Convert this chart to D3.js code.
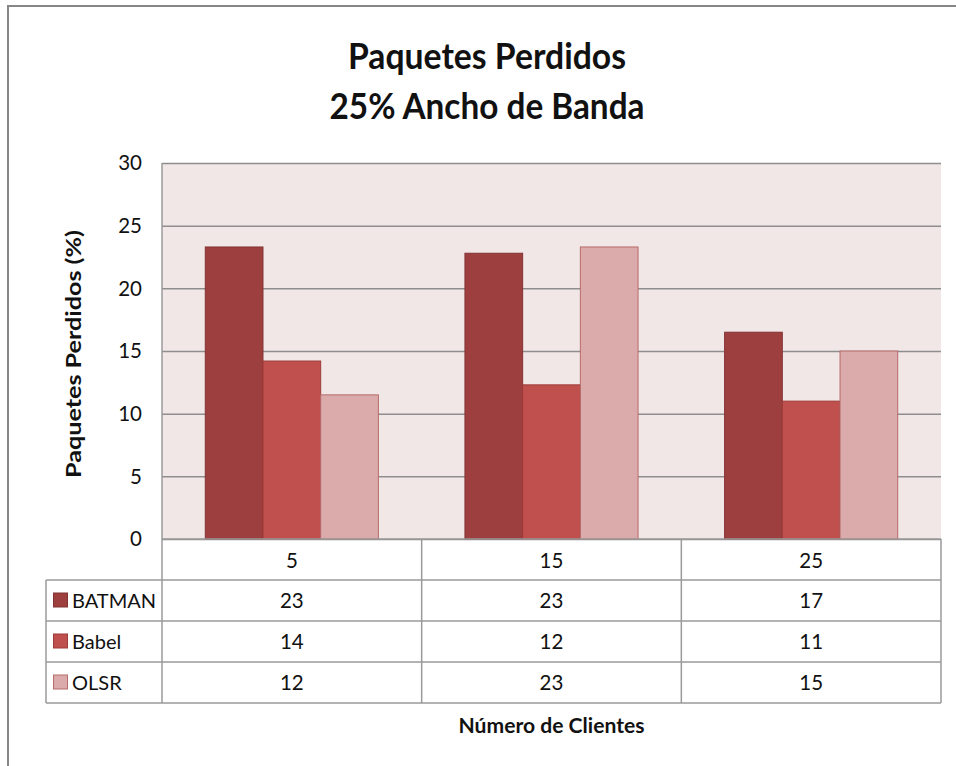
<!DOCTYPE html>
<html>
<head>
<meta charset="utf-8">
<script src="https://cdn.jsdelivr.net/npm/d3@7"></script>
<style>
  html, body { margin: 0; padding: 0; background: #ffffff; }
  svg { display: block; }
  text { font-family: Lato, "Open Sans", sans-serif; fill: #111; }
</style>
</head>
<body>
<svg id="chart" width="956" height="766"></svg>
<script>
// Lost packets per routing protocol, 25% bandwidth
const categories = ["5", "15", "25"];
const seriesNames = ["BATMAN", "Babel", "OLSR"];
const batman = [23.3, 22.8, 16.5];
const babel = [14.2, 12.3, 11.0];
const olsr = [11.5, 23.3, 15.0];
const yTicks = [0, 5, 10, 15, 20, 25, 30];
const titleLines = ["Paquetes Perdidos", "25% Ancho de Banda"];
const yTitle = "Paquetes Perdidos (%)";
const xTitle = "Número de Clientes";

const seriesValues = [batman, babel, olsr];
const fills = ["#9E3F3F", "#C0504D", "#DBAAAA"];
const strokes = ["#843333", "#9C3B39", "#B76B6B"];

const svg = d3.select("#chart");
const plot = { left: 162, right: 941, top: 163, bottom: 539 };
const rowH = 41;
const tableLeft = 46;
const gridColor = "#8E8E8E";
const tableColor = "#9A9A9A";

// outer chart frame (only the top and left edges fall inside the view)
svg.append("rect")
  .attr("x", 8).attr("y", 6).attr("width", 1100).attr("height", 900)
  .attr("fill", "none").attr("stroke", "#878787").attr("stroke-width", 2);

// titles
const title = svg.append("g").attr("font-weight", "bold");
title.append("text").attr("x", 487).attr("y", 69).attr("text-anchor", "middle")
  .attr("font-size", 36).attr("textLength", 278).attr("lengthAdjust", "spacingAndGlyphs")
  .text(titleLines[0]);
title.append("text").attr("x", 487).attr("y", 119).attr("text-anchor", "middle")
  .attr("font-size", 36).attr("textLength", 315).attr("lengthAdjust", "spacingAndGlyphs")
  .text(titleLines[1]);

// scales
const x = d3.scaleBand().domain(categories).range([plot.left, plot.right]).padding(0);
const xs = d3.scaleBand().domain(seriesNames).range([0, x.bandwidth()])
  .paddingInner(0).paddingOuter(0.75);
const y = d3.scaleLinear().domain([0, 30]).range([plot.bottom, plot.top]);

// plot background
svg.append("rect")
  .attr("x", plot.left).attr("y", plot.top)
  .attr("width", plot.right - plot.left).attr("height", plot.bottom - plot.top)
  .attr("fill", "#F2E7E7");

// gridlines via axis
const yAxis = d3.axisLeft(y).tickValues(yTicks)
  .tickSize(-(plot.right - plot.left)).tickFormat("");
const gAxis = svg.append("g").attr("transform", `translate(${plot.left},0)`).call(yAxis);
gAxis.select(".domain").remove();
gAxis.selectAll(".tick line").attr("stroke", gridColor).attr("stroke-width", 1.5);

// tick labels
svg.append("g").selectAll("text").data(yTicks).join("text")
  .attr("x", 142).attr("y", d => y(d)).attr("dy", "0.36em")
  .attr("text-anchor", "end").attr("font-size", 20.5)
  .text(d => d);

// bars
const groups = svg.append("g").selectAll("g").data(seriesNames).join("g")
  .attr("fill", (d, i) => fills[i]).attr("stroke", (d, i) => strokes[i]);
groups.selectAll("rect")
  .data((s, i) => categories.map((c, j) => ({ s, c, v: seriesValues[i][j] })))
  .join("rect")
  .attr("x", d => x(d.c) + xs(d.s))
  .attr("y", d => y(d.v))
  .attr("width", xs.bandwidth())
  .attr("height", d => y(0) - y(d.v))
  .attr("stroke-width", 1);

// data table
const fmt = d3.format(".0f");
const table = svg.append("g");
const colEdges = categories.map(c => x(c)).concat([plot.right]);
// horizontal rules
table.append("line")
  .attr("x1", plot.left).attr("x2", plot.right)
  .attr("y1", plot.bottom).attr("y2", plot.bottom);
[1, 2, 3, 4].forEach(r => {
  table.append("line")
    .attr("x1", tableLeft).attr("x2", plot.right)
    .attr("y1", plot.bottom + r * rowH).attr("y2", plot.bottom + r * rowH);
});
// vertical rules
table.append("line")
  .attr("x1", tableLeft).attr("x2", tableLeft)
  .attr("y1", plot.bottom + rowH).attr("y2", plot.bottom + 4 * rowH);
colEdges.forEach((cx, i) => {
  table.append("line")
    .attr("x1", cx).attr("x2", cx)
    .attr("y1", i === 0 ? plot.top : plot.bottom).attr("y2", plot.bottom + 4 * rowH);
});
table.selectAll("line").attr("stroke", tableColor).attr("stroke-width", 1.5);

// category row
table.append("g").selectAll("text").data(categories).join("text")
  .attr("x", d => x(d) + x.bandwidth() / 2)
  .attr("y", plot.bottom + 29)
  .attr("text-anchor", "middle").attr("font-size", 20.5)
  .text(d => d);

// series rows with legend keys
seriesNames.forEach((s, i) => {
  const top = plot.bottom + (i + 1) * rowH;
  table.append("rect")
    .attr("x", 53.5).attr("y", top + 13).attr("width", 14).attr("height", 14)
    .attr("fill", fills[i]).attr("stroke", strokes[i]).attr("stroke-width", 1);
  table.append("text")
    .attr("x", 72).attr("y", top + 28).attr("font-size", 20).text(s);
  table.append("g").selectAll("text").data(categories).join("text")
    .attr("x", d => x(d) + x.bandwidth() / 2)
    .attr("y", top + 28)
    .attr("text-anchor", "middle").attr("font-size", 20.5)
    .text((d, j) => fmt(seriesValues[i][j]));
});

// axis titles
svg.append("text")
  .attr("transform", `translate(81,354) rotate(-90)`)
  .attr("text-anchor", "middle").attr("font-size", 20.5).attr("font-weight", "bold")
  .attr("textLength", 248).attr("lengthAdjust", "spacingAndGlyphs")
  .text(yTitle);
svg.append("text")
  .attr("x", (plot.left + plot.right) / 2).attr("y", 733)
  .attr("text-anchor", "middle").attr("font-size", 20.5).attr("font-weight", "bold")
  .attr("textLength", 186).attr("lengthAdjust", "spacingAndGlyphs")
  .text(xTitle);
</script>
</body>
</html>
